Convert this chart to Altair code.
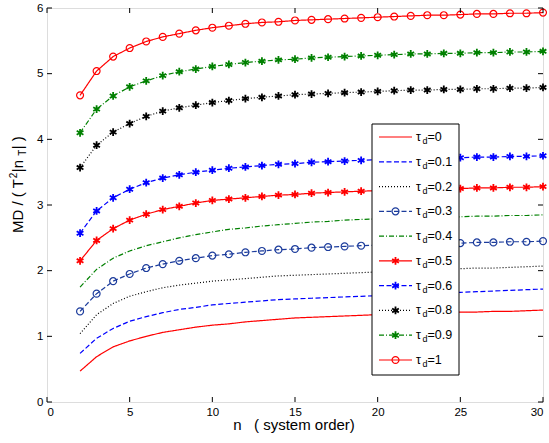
import altair as alt
import pandas as pd

FONT = "Liberation Sans"

n_vals = list(range(2, 31))

tau_labels = ["0", "0.1", "0.2", "0.3", "0.4", "0.5", "0.6", "0.8", "0.9", "1"]

md_t0 = [0.47, 0.69, 0.84, 0.93, 1.00, 1.06, 1.10, 1.14, 1.17, 1.19, 1.22, 1.24, 1.26, 1.28, 1.29,
         1.30, 1.31, 1.32, 1.33, 1.34, 1.35, 1.36, 1.36, 1.37, 1.37, 1.38, 1.38, 1.39, 1.40]
md_t01 = [0.74, 0.97, 1.12, 1.23, 1.30, 1.36, 1.41, 1.44, 1.48, 1.50, 1.52, 1.54, 1.56, 1.57, 1.58,
          1.59, 1.60, 1.61, 1.62, 1.63, 1.64, 1.65, 1.66, 1.67, 1.68, 1.69, 1.70, 1.71, 1.72]
md_t02 = [1.04, 1.33, 1.50, 1.61, 1.68, 1.74, 1.78, 1.81, 1.84, 1.86, 1.88, 1.90, 1.92, 1.93, 1.94,
          1.95, 1.96, 1.97, 1.98, 1.99, 2.00, 2.01, 2.02, 2.03, 2.04, 2.04, 2.05, 2.06, 2.07]
md_t03 = [1.38, 1.65, 1.84, 1.95, 2.04, 2.10, 2.15, 2.19, 2.23, 2.25, 2.28, 2.30, 2.32, 2.33, 2.35,
          2.36, 2.37, 2.38, 2.39, 2.40, 2.40, 2.41, 2.42, 2.42, 2.43, 2.43, 2.44, 2.44, 2.45]
md_t04 = [1.75, 2.02, 2.19, 2.30, 2.38, 2.44, 2.50, 2.55, 2.59, 2.63, 2.65, 2.68, 2.70, 2.72, 2.74,
          2.75, 2.77, 2.78, 2.79, 2.79, 2.80, 2.81, 2.81, 2.82, 2.83, 2.83, 2.84, 2.84, 2.85]
md_t05 = [2.15, 2.46, 2.64, 2.77, 2.86, 2.93, 2.98, 3.03, 3.07, 3.09, 3.11, 3.13, 3.15, 3.16, 3.18,
          3.19, 3.20, 3.21, 3.22, 3.23, 3.23, 3.24, 3.25, 3.25, 3.26, 3.26, 3.27, 3.27, 3.28]
md_t06 = [2.57, 2.91, 3.11, 3.24, 3.34, 3.41, 3.46, 3.50, 3.53, 3.56, 3.58, 3.60, 3.62, 3.63, 3.65,
          3.66, 3.67, 3.68, 3.69, 3.70, 3.71, 3.71, 3.72, 3.72, 3.73, 3.73, 3.74, 3.74, 3.75]
md_t08 = [3.57, 3.91, 4.11, 4.24, 4.35, 4.43, 4.48, 4.52, 4.56, 4.59, 4.62, 4.64, 4.66, 4.68, 4.69,
          4.70, 4.71, 4.72, 4.73, 4.74, 4.75, 4.75, 4.76, 4.76, 4.77, 4.77, 4.78, 4.78, 4.79]
md_t09 = [4.10, 4.46, 4.66, 4.80, 4.89, 4.97, 5.03, 5.07, 5.11, 5.14, 5.17, 5.19, 5.21, 5.22, 5.24,
          5.25, 5.26, 5.27, 5.28, 5.29, 5.30, 5.30, 5.31, 5.31, 5.32, 5.32, 5.33, 5.33, 5.34]
md_t1 = [4.67, 5.04, 5.26, 5.39, 5.49, 5.56, 5.61, 5.66, 5.70, 5.73, 5.76, 5.78, 5.79, 5.81, 5.82,
         5.83, 5.84, 5.85, 5.86, 5.87, 5.88, 5.89, 5.89, 5.90, 5.91, 5.91, 5.92, 5.92, 5.93]

series_values = [md_t0, md_t01, md_t02, md_t03, md_t04, md_t05, md_t06, md_t08, md_t09, md_t1]

colors = ["#ff0000", "#0000ff", "#000000", "#1c3c9c", "#008000",
          "#ff0000", "#0000ff", "#000000", "#008000", "#ff0000"]
SOLID, DASH, DOT, DASHDOT = [1, 0], [5, 2.5], [1, 2], [5, 2, 1, 2]
dashes = [SOLID, DASH, DOT, DASH, DASHDOT, SOLID, DASH, DOT, DASHDOT, SOLID]
marker_of = {"0.3": "circle", "0.5": "star", "0.6": "star", "0.8": "star", "0.9": "star", "1": "circle"}

x_ticks = [0, 5, 10, 15, 20, 25, 30]
y_ticks = [0, 1, 2, 3, 4, 5, 6]

ASTERISK = "M0,-1L0,1M-0.87,-0.5L0.87,0.5M-0.87,0.5L0.87,-0.5"

rows = []
for t, vals in zip(tau_labels, series_values):
    for n, v in zip(n_vals, vals):
        rows.append({"tau": t, "n": n, "md": v, "marker": marker_of.get(t, "none")})
df = pd.DataFrame(rows)

leg = pd.DataFrame({"tau": tau_labels,
                    "eq": ["=" + t for t in tau_labels],
                    "marker": [marker_of.get(t, "none") for t in tau_labels]})

W, H = 496, 394

xs = alt.Scale(domain=[0, 30], nice=False, zero=False)
ys = alt.Scale(domain=[0, 6], nice=False, zero=False)
color_enc = alt.Color("tau:N", scale=alt.Scale(domain=tau_labels, range=colors), legend=None)
dash_enc = alt.StrokeDash("tau:N", scale=alt.Scale(domain=tau_labels, range=dashes), legend=None)
shape_enc = alt.Shape("marker:N", scale=alt.Scale(domain=["circle", "star"], range=["circle", ASTERISK]),
                      legend=None)
size_enc = alt.Size("marker:N", scale=alt.Scale(domain=["circle", "star"], range=[48, 60]), legend=None)
sw_enc = alt.StrokeWidth("marker:N", scale=alt.Scale(domain=["circle", "star"], range=[1.2, 1.8]),
                         legend=None)

xaxis = alt.Axis(values=x_ticks, format="d", ticks=False, domain=False, grid=False, title=None,
                 labelFont=FONT, labelFontSize=11.5, labelColor="#000", labelPadding=4)
yaxis = alt.Axis(values=y_ticks, format="d", ticks=False, domain=False, grid=False, title=None,
                 labelFont=FONT, labelFontSize=11.5, labelColor="#000", labelPadding=4)

lines = alt.Chart(df).mark_line(strokeWidth=1.2).encode(
    x=alt.X("n:Q", scale=xs, axis=xaxis),
    y=alt.Y("md:Q", scale=ys, axis=yaxis),
    color=color_enc, strokeDash=dash_enc, detail="tau:N",
)
points = alt.Chart(df).transform_filter("datum.marker != 'none'").mark_point(
    filled=False, opacity=1).encode(
    x=alt.X("n:Q", scale=xs), y=alt.Y("md:Q", scale=ys),
    color=color_enc, shape=shape_enc, size=size_enc, strokeWidth=sw_enc,
)

tick_df = pd.DataFrame({"v": x_ticks})
ytick_df = pd.DataFrame({"v": y_ticks})
xt_bot = alt.Chart(tick_df).mark_rule(color="black", strokeWidth=1).encode(
    x=alt.X("v:Q", scale=xs), y=alt.value(H), y2=alt.value(H - 5))
xt_top = alt.Chart(tick_df).mark_rule(color="black", strokeWidth=1).encode(
    x=alt.X("v:Q", scale=xs), y=alt.value(0), y2=alt.value(5))
yt_left = alt.Chart(ytick_df).mark_rule(color="black", strokeWidth=1).encode(
    y=alt.Y("v:Q", scale=ys), x=alt.value(0), x2=alt.value(5))
yt_right = alt.Chart(ytick_df).mark_rule(color="black", strokeWidth=1).encode(
    y=alt.Y("v:Q", scale=ys), x=alt.value(W), x2=alt.value(W - 5))

one = pd.DataFrame({"a": [0]})
xtitle = alt.Chart(one).mark_text(text="n\u00a0\u00a0\u00a0( system order)", font=FONT, fontSize=15,
                                  align="center", baseline="alphabetic", color="black").encode(
    x=alt.value(247), y=alt.value(422))

# y title pieces (rotated)
def ypiece(txt, ypos, xpos, size):
    return alt.Chart(one).mark_text(text=txt, font=FONT, fontSize=size, angle=270, align="left",
                                    baseline="alphabetic", color="black").encode(
        x=alt.value(xpos), y=alt.value(ypos))

ytitle = [
    ypiece("MD / ( T", 225, -24.5, 15),
    ypiece("2", 170.3, -30.5, 10),
    ypiece("\u00a0|n", 164.2, -24.5, 15),
    ypiece("T", 147.8, -21.5, 10),
    ypiece("|\u00a0)", 141.2, -24.5, 15),
]

plot = alt.layer(lines, points, xt_bot, xt_top, yt_left, yt_right, xtitle, *ytitle)

ly = alt.Y("tau:N", scale=alt.Scale(type="point", domain=tau_labels, range=[129, 352], padding=0),
           axis=None)
leg_box = alt.Chart(one).mark_rect(fill="white", stroke="black", strokeWidth=1).encode(
    x=alt.value(325), x2=alt.value(412), y=alt.value(116), y2=alt.value(367))
leg_lines = alt.Chart(leg).mark_rule(strokeWidth=1.2).encode(
    x=alt.value(332), x2=alt.value(365), y=ly, color=color_enc, strokeDash=dash_enc)
leg_pts = alt.Chart(leg).transform_filter("datum.marker != 'none'").mark_point(
    filled=False, opacity=1).encode(
    x=alt.value(348.5), y=ly, color=color_enc, shape=shape_enc, size=size_enc, strokeWidth=sw_enc)
leg_tau = alt.Chart(leg).mark_text(text="\u03c4", font=FONT, fontSize=12.5, align="left",
                                   baseline="middle", color="black").encode(x=alt.value(369), y=ly)
leg_d = alt.Chart(leg).mark_text(text="d", font=FONT, fontSize=9, align="left", dy=4,
                                 baseline="middle", color="black").encode(x=alt.value(375.5), y=ly)
leg_eq = alt.Chart(leg).mark_text(font=FONT, fontSize=12.5, align="left",
                                  baseline="middle", color="black").encode(
    x=alt.value(380.5), y=ly, text="eq:N")
legend = alt.layer(leg_box, leg_lines, leg_pts, leg_tau, leg_d, leg_eq)

chart = alt.layer(plot, legend).resolve_scale(y="independent").properties(
    width=W, height=H,
    autosize=alt.AutoSizeParams(type="none"),
    padding={"left": 47, "top": 8, "right": 6, "bottom": 41},
).configure_view(stroke="black", strokeWidth=1).configure(background="white")

chart.save("out.html", embed_options={"renderer": "svg", "actions": False})
